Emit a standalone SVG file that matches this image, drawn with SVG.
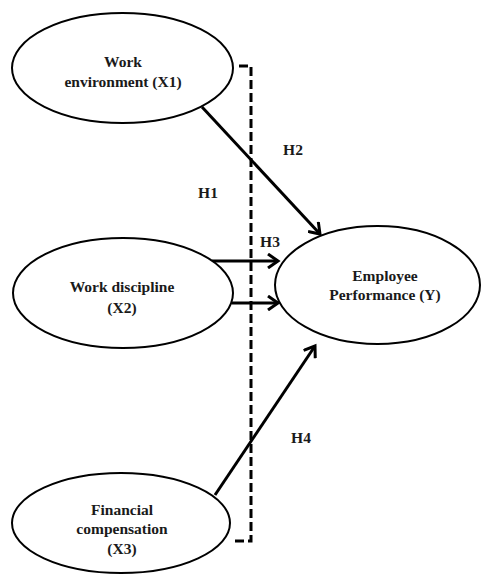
<svg xmlns="http://www.w3.org/2000/svg" width="484" height="574" viewBox="0 0 484 574">
  <style>
    .node ellipse { fill: #ffffff; stroke: #000000; stroke-width: 2; }
    .t { font-family: "Liberation Serif", "Times New Roman", serif; font-weight: bold; font-size: 15.5px; fill: #1a1a1a; text-anchor: middle; }
    .conn { stroke: #000000; stroke-width: 3; fill: none; }
    .dash { stroke: #000000; stroke-width: 3; fill: none; stroke-dasharray: 9 4; }
  </style>
  <defs>
    <marker id="arr" markerUnits="userSpaceOnUse" markerWidth="16" markerHeight="16" refX="12" refY="8" orient="auto" viewBox="0 0 16 16">
      <path d="M2,1 L12,8 L2,15" fill="none" stroke="#000000" stroke-width="3"/>
    </marker>
  </defs>
  <rect width="484" height="574" fill="#ffffff"/>
  <g id="connectors">
    <path class="dash" d="M239,66 H251 V541 H231"/>
    <line class="conn" x1="202" y1="107" x2="320" y2="234" marker-end="url(#arr)"/>
    <line class="conn" x1="212" y1="261" x2="278" y2="261" marker-end="url(#arr)"/>
    <line class="conn" x1="232" y1="303" x2="278" y2="303" marker-end="url(#arr)"/>
    <line class="conn" x1="215" y1="495" x2="315" y2="346" marker-end="url(#arr)"/>
  </g>
  <g id="X1" class="node">
    <ellipse cx="122.5" cy="68" rx="110.5" ry="55"/>
    <text class="t" x="123" y="67">Work</text>
    <text class="t" x="123" y="87">environment (X1)</text>
  </g>
  <g id="X2" class="node">
    <ellipse cx="123" cy="293" rx="110" ry="55"/>
    <text class="t" x="122" y="292">Work discipline</text>
    <text class="t" x="122" y="313">(X2)</text>
  </g>
  <g id="X3" class="node">
    <ellipse cx="121" cy="523" rx="109" ry="50"/>
    <text class="t" x="122" y="515">Financial</text>
    <text class="t" x="122" y="534">compensation</text>
    <text class="t" x="122" y="554">(X3)</text>
  </g>
  <g id="Y" class="node">
    <ellipse cx="377.5" cy="285" rx="102.5" ry="59"/>
    <text class="t" x="385" y="281">Employee</text>
    <text class="t" x="385" y="300">Performance (Y)</text>
  </g>
  <g id="labels">
    <text class="t" x="293" y="155">H2</text>
    <text class="t" x="208" y="198">H1</text>
    <text class="t" x="270" y="247">H3</text>
    <text class="t" x="301" y="443">H4</text>
  </g>
</svg>
